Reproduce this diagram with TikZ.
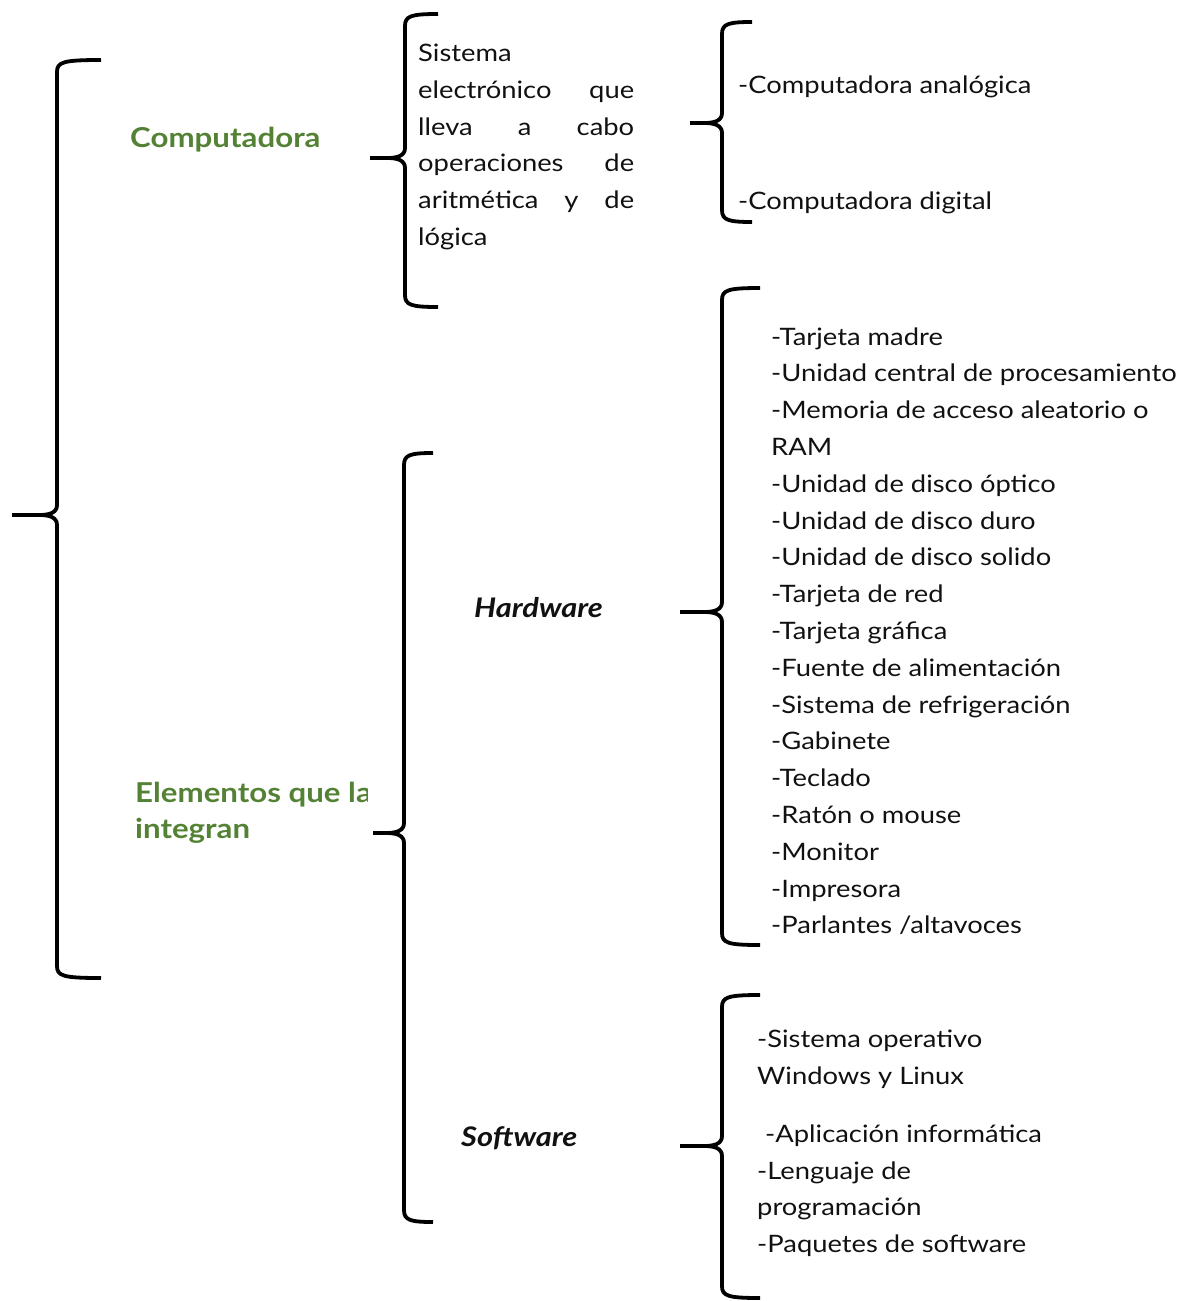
\documentclass[tikz,border=0pt]{standalone}
\usepackage{fontspec}
\setmainfont{Lato}[FakeStretch=1.14]
\definecolor{titgreen}{HTML}{548235}
\definecolor{txtblack}{HTML}{111111}
\newcommand\mybrace[7]{% name, x, ytop, ybot, ymid, xtip, xend
  \draw[bracestyle] (#7,#3) .. controls (#2+6,#3) and (#2,#3+2) .. (#2,#3+12)
    -- (#2,#5-10) .. controls (#2,#5-2) and (#2-8,#5) .. (#2-18,#5) -- (#6,#5);
  \draw[bracestyle] (#2-18,#5) .. controls (#2-8,#5) and (#2,#5+2) .. (#2,#5+10)
    -- (#2,#4-12) .. controls (#2,#4-2) and (#2+6,#4) .. (#7,#4);
  \coordinate (#1) at (#6,#5);
}
\begin{document}
\begin{tikzpicture}[x=1pt,y=-1pt,
  bracestyle/.style={line width=3.8pt, black, line cap=butt, line join=round},
  item/.style={anchor=base west, inner sep=0pt, text=txtblack, font=\fontsize{24}{30}\selectfont},
  title/.style={anchor=base west, inner sep=0pt, text=titgreen, font=\fontsize{27.4}{30}\selectfont\bfseries},
  sub/.style={anchor=base west, inner sep=0pt, text=txtblack, font=\fontsize{27}{30}\selectfont\bfseries\itshape}]
\useasboundingbox (0,0) rectangle (1182,1301);
% braces
\mybrace{bA}{57}{60}{978}{515}{12}{101}
\mybrace{bB}{405}{14}{307}{158}{370}{438}
\mybrace{bC}{722}{22}{222}{123}{690}{752}
\mybrace{bD}{722}{288}{945}{612}{680}{760}
\mybrace{bE}{404}{453}{1222}{833}{373}{433}
\mybrace{bF}{722}{995}{1298}{1146}{680}{760}
% titles
\node[title] (comp) at (130,147) {Computadora};
\begin{scope}
\clip (0,760) rectangle (367,860);
\node[title] (elem1) at (135,802) {Elementos que la};
\end{scope}
\node[title] (elem2) at (135,838) {integran};
\node[sub] (hw) at (474,617) {Hardware};
\node[sub] (sw) at (461,1146) {Software};
% description paragraph
\node[item] (d1) at (418,61) {Sistema};
\node[item] (d2) at (418,98) {\makebox[216pt][s]{electrónico que}};
\node[item] (d3) at (418,135) {\makebox[216pt][s]{lleva a cabo}};
\node[item] (d4) at (418,171) {\makebox[216pt][s]{operaciones de}};
\node[item] (d5) at (418,208) {\makebox[216pt][s]{aritmética y de}};
\node[item] (d6) at (418,245) {lógica};
% types
\node[item] (t1) at (738,93) {-Computadora analógica};
\node[item] (t2) at (738,209) {-Computadora digital};
% hardware list
\foreach \t [count=\i from 0] in {-Tarjeta madre,-Unidad central de procesamiento,-Memoria de acceso aleatorio o,RAM,-Unidad de disco óptico,-Unidad de disco duro,-Unidad de disco solido,-Tarjeta de red,-Tarjeta gráfica,-Fuente de alimentación,-Sistema de refrigeración,-Gabinete,-Teclado,-Ratón o mouse,-Monitor,-Impresora,-Parlantes /altavoces}
  \node[item] (h\i) at (771,345+36.8*\i) {\t};
% software list
\node[item] (s1) at (757,1047) {-Sistema operativo};
\node[item] (s2) at (757,1084) {Windows y Linux};
\node[item] (s3) at (765,1142) {-Aplicación informática};
\node[item] (s4) at (757,1179) {-Lenguaje de};
\node[item] (s5) at (757,1215) {programación};
\node[item] (s6) at (757,1252) {-Paquetes de software};
\end{tikzpicture}
\end{document}
